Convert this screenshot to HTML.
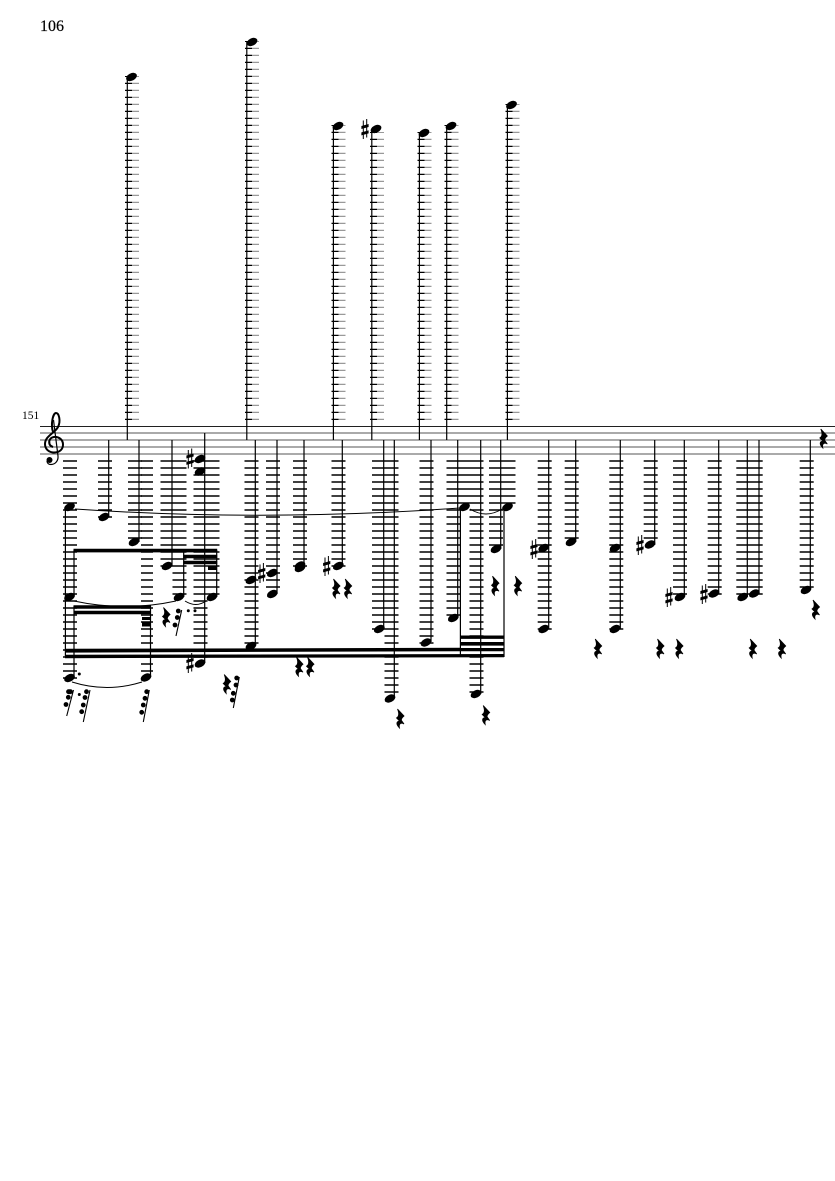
<!DOCTYPE html>
<html>
<head>
<meta charset="utf-8">
<style>
html,body{margin:0;padding:0;background:#fff;width:835px;height:1181px;overflow:hidden}
svg{display:block}
text{font-family:"Liberation Serif",serif;fill:#000}
.m{fill:none;stroke:none}
.note{marker-start:url(#mn);marker-mid:url(#mn);marker-end:url(#mn)}
.sharp{marker-start:url(#ms);marker-mid:url(#ms);marker-end:url(#ms)}
.rest{marker-start:url(#mr);marker-mid:url(#mr);marker-end:url(#mr)}
</style>
</head>
<body>
<svg width="835" height="1181" viewBox="0 0 835 1181" xmlns="http://www.w3.org/2000/svg">
<defs>
<marker id="mn" markerUnits="userSpaceOnUse" markerWidth="40" markerHeight="40" viewBox="-20 -20 40 40" refX="0" refY="0"><ellipse rx="5.700" ry="3.700" transform="rotate(-27)"/></marker>
<marker id="ms" markerUnits="userSpaceOnUse" markerWidth="40" markerHeight="40" viewBox="-20 -20 40 40" refX="0" refY="0"><path d="M-1.700,-8.500V10M1.700,-10V8.500" stroke="#000" stroke-width="1" fill="none"/><path d="M-3.600,-3L3.600,-5V-2L-3.600,0ZM-3.600,3.400L3.600,1.400V4.400L-3.600,6.400Z"/></marker>
<marker id="mr" markerUnits="userSpaceOnUse" markerWidth="40" markerHeight="40" viewBox="-20 -20 40 40" refX="0" refY="0"><path stroke="#000" stroke-width="0.800" d="M-2.500,-9.500L4,-2.500C2,-1,1,1,1.500,2L4,5.500C1.500,4-1.500,4.500-0.500,9.500C-4,6-4,3-0.500,2.500L-3.500,-0.500C-1,-2-0.500,-4.500-2.500,-9.500Z"/></marker>
</defs>
<rect width="835" height="1181" fill="#fff"/>
<text x="40" y="31" font-size="16" stroke="#000" stroke-width="0.2">106</text>
<text x="22" y="419" font-size="11.5">151</text>

<path fill="none" stroke="#000" stroke-width="0.9" d="M40 426.400H835"/>
<path fill="none" stroke="#555" stroke-width="0.9" d="M40 433H835M40 440H835M40 447H835M40 454H835"/>

<path fill="none" stroke="#000" stroke-width="2" d="M53 432C50.500 424 53 413 56 413C59 413 61 421 58 427C55 433 45 436 45 444C45 450 50 452.500 54 452.500C60 452.500 63 449 63 444.500C63 439 58 436.500 54 437C50 437.500 48.500 441 49.500 444C50 445.500 51.500 446.500 53 447"/>
<path fill="none" stroke="#000" stroke-width="1.200" d="M53.500 420L58 456C58.500 461 55 464.500 51 464.500C48.500 464.500 47 463 47 461"/>
<circle cx="49.500" cy="460" r="3"/>

<path fill="none" stroke="#000" stroke-dasharray="1.300 5.700" stroke-width="7" d="M128.500 420V76M248.500 420V41M335 420V125M373.500 420V132M421 420V132M448 420V125M509 420V104"/>
<path fill="none" stroke="#999" stroke-dasharray="1.300 5.700" stroke-width="7" d="M135.500 420V76M255.500 420V41M342 420V125M380.500 420V132M428 420V132M455 420V125M516 420V104"/>

<path fill="none" stroke="#000" stroke-dasharray="1.600 5.400" stroke-width="14" d="M70 460.200V679M105 460.200V518M135 460.200V539M167.500 460.200V567M179.500 460.200V595M212.500 460.200V595M200.500 460.200V658M251.500 460.200V644M273 460.200V588M300 460.200V567M338.500 460.200V567M379 460.200V630M391.500 460.200V693M426.500 460.200V644M453.500 460.200V616M465 460.200V508M476.500 460.200V693M496 460.200V546M508.500 460.200V508M544.700 460.200V630M571.700 460.200V539M616.300 460.200V630M650.700 460.200V539M680 460.200V595M714.700 460.200V595M743.300 460.200V595M755.700 460.200V595M806.700 460.200V588"/>
<path fill="none" stroke="#000" stroke-dasharray="1.600 5.400" stroke-width="12" d="M147 460.200V672"/>

<path fill="none" stroke="#000" stroke-width="1.200" d="M127.300 440V77M246.800 440V42M333.400 440V126M371.800 440V129M419.400 440V133M446.700 440V126M507.400 440V105M65.400 507V657M74 597V550M74 678V606M108.700 440V517M139 440V542M172 440V566M183.700 597V550M216.700 597V550M204.700 433V663M150.500 677V606M255.300 440V646M277 440V594M304 440V567M342.300 440V566M383.700 440V629M394.300 440V698M431 440V642M457.700 440V618M460.400 507V657M480.700 440V694M500.700 440V549M504 507V657M548.700 440V629M575.700 440V542M620.300 440V629M654.700 440V545M684.300 440V597M718.700 440V594M747.300 440V597M759 440V594M810.300 440V590"/>

<path d="M73.500 548.800H217.200V552.400H73.500ZM183.200 554.800H217.200V558.200H183.200ZM183.200 560.800H217.200V564.200H183.200ZM208 566.500H217V570H208ZM73.500 605.300H151V608.700H73.500ZM73.500 610.800H151V614.200H73.500ZM142 617H151V620H142ZM142 622.500H151V626.500H142ZM65 648.800L461 647.800V651.200L65 652.600ZM65 654.800L504 654V657.200L65 658.200ZM460 635.500H504.500V638.900H460ZM460 642H504.500V645.600H460ZM460 648H504.500V651.200H460Z"/>

<path fill="none" stroke="#000" stroke-width="1" d="M75 509Q265 522 460 508M74 601Q125 612 176 601M185 601Q196 608 206 601M72 682Q107 693 142 682M470 509Q486 519 502 509"/>

<path class="m note" d="M131.500 77L252 42L338 126L376 129L424 133L451 126L511.500 105L69.500 507L69.500 597L69.500 678L104 517L134 542L167 566L179 597L212 597L146 677.500L200 459L200 471.500L200 663.500L251 646L251 580L272.300 573L272.300 594L300 565.500L300 568L338.300 566L379.300 629L390 698.500L426 642.500L453.300 618L464.500 507L476 694L496 549L507.500 507L543.700 548L543.700 629L571 542L615 548L615 629L650 544.500L680 597L714 593.500L742.700 597L754.300 593.500L806 590"/>
<path class="m sharp" d="M365 129L190 458.500L190 663L261.700 573L326.700 566L534 549L640 545L669 597L704 594"/>
<path class="m rest" d="M823.300 438.500L815.500 609.500L597.700 648.500L660 648.500L679 648.500L752.700 648.500L781.700 648.500L336 588.500L347.700 588.500L299 666.700L310 666.700L400 718.500L485.700 715L495 585.700L517.700 585.700L166 617L226.700 684"/>

<path fill="none" stroke="#000" stroke-width="1.100" d="M73.500 690L66.700 716M90 690L83.300 722M149.300 690L143.300 722M181.700 610L176 636M239.300 677L233.300 708"/>
<path fill="none" stroke="#000" stroke-width="4.800" stroke-linecap="round" d="M68.500 691.700h2M68.300 697.300h0M66 704.500h0M86.500 691.700h0M85 697.500h0M83.300 705h0M81.700 711.700h0M146.700 691.700h0M145 698.300h0M143.300 705h0M141.700 712.300h0M178.300 611h0M177.300 617.500h0M175 625h0M236.700 678h0M236 685h0M233.300 693.300h0M232.300 700h0"/>
<path fill="none" stroke="#000" stroke-width="3" stroke-linecap="round" d="M79.300 674h0M79.300 694.500h0M188.300 610.700h0M195 610.700h0"/>
</svg>
</body>
</html>
